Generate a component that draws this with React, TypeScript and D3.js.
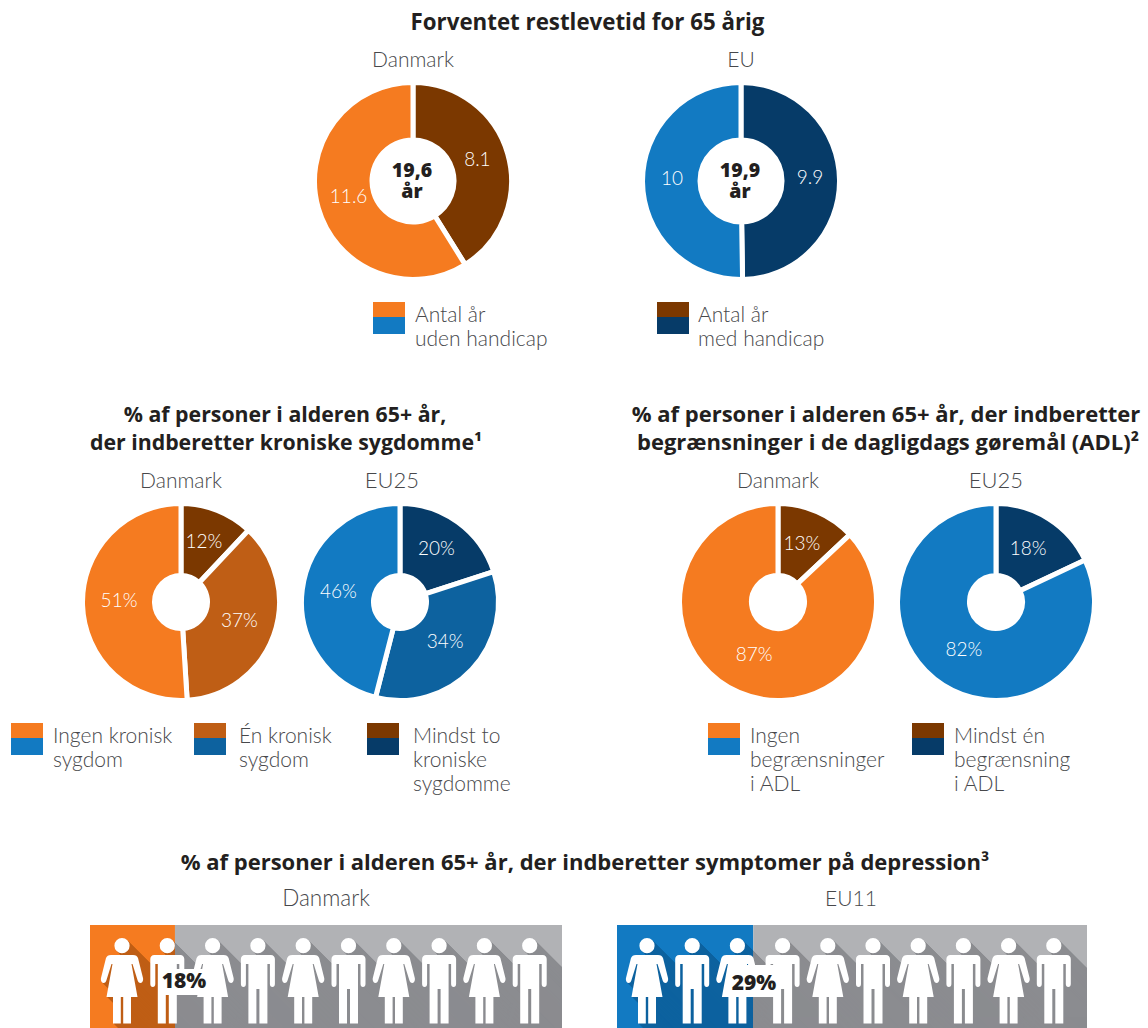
import React from "react";
import * as d3 from "d3";

// Slice values, listed clockwise from twelve o'clock
const lifeDk = [8.1, 11.6];
const lifeEu = [9.9, 10];
const chronicDk = [12, 37, 51];
const chronicEu = [20, 34, 46];
const adlDk = [13, 87];
const adlEu = [18, 82];
const depressionDk = 18;
const depressionEu = 29;
const peopleCount = 10;

const ORANGE = ["#7B3800", "#BF5E15", "#F57B20"];
const BLUE = ["#063B68", "#0D629F", "#127AC2"];
const ORANGE2 = [ORANGE[0], ORANGE[2]];
const BLUE2 = [BLUE[0], BLUE[2]];

const TITLE = "#231F20";
const BODY = "#47484B";
const titleFont = "'Open Sans', sans-serif";
const bodyFont = "Lato, sans-serif";

type PieProps = {
  cx: number; cy: number; inner: number; labelR: number; values: number[]; colors: string[];
  labels: string[]; center?: string[];
};

function Donut({ cx, cy, inner, labelR, values, colors, labels, center }: PieProps) {
  const slices = d3.pie<number>().sort(null)(values);
  const arc = d3.arc<d3.PieArcDatum<number>>().innerRadius(inner).outerRadius(98.5);
  const labelArc = d3.arc<d3.PieArcDatum<number>>().innerRadius(labelR).outerRadius(labelR);
  return (
    <g transform={`translate(${cx},${cy})`}>
      {slices.map((s, i) => (
        <path key={i} d={arc(s) ?? ""} fill={colors[i]} stroke="#fff" strokeWidth={5} strokeLinejoin="miter" />
      ))}
      {slices.map((s, i) => {
        const [x, y] = labelArc.centroid(s);
        return (
          <text key={i} x={x} y={y + 3.5} textAnchor="middle" fontFamily={bodyFont} fontWeight={300} fontSize={19} fill="#fff">
            {labels[i]}
          </text>
        );
      })}
      {center?.map((t, i) => (
        <text key={t} x={-1} y={-4 + i * 21} textAnchor="middle" fontFamily={titleFont} fontWeight={800} fontSize={19.5} fill={TITLE}>{t}</text>
      ))}
    </g>
  );
}

function Legend({ x, y, top, bottom, lines, dx }: { x: number; y: number; top: string; bottom: string; lines: string[]; dx: number }) {
  return (
    <g>
      <rect x={x} y={y} width={32} height={15} fill={top} />
      <rect x={x} y={y + 15} width={32} height={17} fill={bottom} />
      {lines.map((l, i) => (
        <text key={i} x={x + dx} y={y + 20 + i * 24} fontFamily={bodyFont} fontWeight={300} fontSize={21} fill={BODY}>{l}</text>
      ))}
    </g>
  );
}

// Pictogram silhouettes, drawn around a vertical axis at x = 0 and y measured from the panel top
const headPath = "M-7.6,20.7a7.6,7.6 0 1,0 15.2,0a7.6,7.6 0 1,0 -15.2,0Z";
const womanPath =
  headPath +
  "M-11,30H11C14,30 15,31 16,33L21,53C21.6,56 20,58 18.5,58C17,58 16,57 15.5,55L10.5,39L9.5,39L15.5,72H9V98.5H1.2V72H-1.2V98.5H-9V72H-15.5L-9.5,39L-10.5,39L-15.5,55C-16,57 -17,58 -18.5,58C-20,58 -21.6,56 -21,53L-16,33C-15,31 -14,30 -11,30Z";
const manPath =
  headPath +
  "M-13,30H13C15.5,30 17,32 17,34V59C17,61 16,62 14.5,62C13,62 12,61 12,59V39H9.5V98.5H1.5V64H-1.5V98.5H-9.5V39H-12V59C-12,61 -13,62 -14.5,62C-16,62 -17,61 -17,59V34C-17,32 -15.5,30 -13,30Z";

function PeoplePanel({ id, x0, x1, firstX, step, value, fill, shade, label, boxX, boxW, boxY, boxH }: {
  id: string; x0: number; x1: number; firstX: number; step: number; value: number; fill: string; shade: string;
  label: string; boxX: number; boxW: number; boxY: number; boxH: number;
}) {
  const top = 925;
  const height = 103;
  const share = d3.scaleLinear().domain([0, 100]).range([x0, x1]);
  const split = share(value);
  const idx = d3.range(peopleCount);
  const offsets = d3.range(1, 104);
  return (
    <g>
      <defs>
        <clipPath id={`${id}-all`}><rect x={x0} y={top} width={x1 - x0} height={height} /></clipPath>
        <clipPath id={`${id}-hi`}><rect x={x0} y={top} width={split - x0} height={height} /></clipPath>
        <clipPath id={`${id}-lo`}><rect x={split} y={top} width={x1 - split} height={height} /></clipPath>
      </defs>
      <rect x={x0} y={top} width={split - x0} height={height} fill={fill} />
      <rect x={split} y={top} width={x1 - split} height={height} fill="#B1B2B5" />
      {[[`${id}-hi`, shade], [`${id}-lo`, "#8B8C90"]].map(([clip, color]) => (
        <g key={clip} clipPath={`url(#${clip})`} fill={color}>
          {idx.map((i) => offsets.map((o) => (
            <path key={`${i}-${o}`} d={i % 2 === 0 ? womanPath : manPath}
              transform={`translate(${firstX + i * step + o},${top + o})`} />
          )))}
        </g>
      ))}
      <g clipPath={`url(#${id}-all)`} fill="#fff">
        {idx.map((i) => (
          <path key={i} d={i % 2 === 0 ? womanPath : manPath} transform={`translate(${firstX + i * step},${top})`} />
        ))}
      </g>
      <rect x={boxX} y={boxY} width={boxW} height={boxH} fill="#fff" />
      <text x={boxX + boxW / 2} y={boxY + boxH - 7} textAnchor="middle" fontFamily={titleFont} fontWeight={800} fontSize={21} fill={TITLE}>{label}</text>
    </g>
  );
}

const Title = ({ x, y, t, size = 22 }: { x: number; y: number; t: string; size?: number }) => (
  <text x={x} y={y} textAnchor="middle" fontFamily={titleFont} fontWeight={700} fontSize={size} fill={TITLE}>{t}</text>
);
const Sub = ({ x, y, t, size = 21 }: { x: number; y: number; t: string; size?: number }) => (
  <text x={x} y={y} textAnchor="middle" fontFamily={bodyFont} fontWeight={300} fontSize={size} fill={BODY}>{t}</text>
);

export default function App() {
  return (
    <svg width={1148} height={1028} style={{ position: "absolute", left: 0, top: 0, background: "#fff" }}>
      <Title x={587.5} y={30} t="Forventet restlevetid for 65 årig" size={22.3} />
      <Sub x={413} y={67} t="Danmark" />
      <Sub x={741} y={67} t="EU" />
      <Donut cx={413} cy={181} inner={41} labelR={67} values={lifeDk} colors={ORANGE2} labels={["8.1", "11.6"]} center={["19,6", "år"]} />
      <Donut cx={741} cy={181} inner={41} labelR={69} values={lifeEu} colors={BLUE2} labels={["9.9", "10"]} center={["19,9", "år"]} />
      <Legend x={373} y={302} dx={42} top={ORANGE[2]} bottom={BLUE[2]} lines={["Antal år", "uden handicap"]} />
      <Legend x={657} y={302} dx={41} top={ORANGE[0]} bottom={BLUE[0]} lines={["Antal år", "med handicap"]} />

      <Title x={285} y={422} t="% af personer i alderen 65+ år," size={21.3} />
      <Title x={286} y={450} t="der indberetter kroniske sygdomme¹" size={21.3} />
      <Sub x={181} y={488} t="Danmark" />
      <Sub x={392} y={488} t="EU25" size={22} />
      <Donut cx={181} cy={602} inner={26.5} labelR={62} values={chronicDk} colors={ORANGE} labels={chronicDk.map((v) => `${v}%`)} />
      <Donut cx={400} cy={602} inner={26.5} labelR={62} values={chronicEu} colors={BLUE} labels={chronicEu.map((v) => `${v}%`)} />
      <Legend x={11} y={723} dx={42} top={ORANGE[2]} bottom={BLUE[2]} lines={["Ingen kronisk", "sygdom"]} />
      <Legend x={194} y={723} dx={45} top={ORANGE[1]} bottom={BLUE[1]} lines={["Én kronisk", "sygdom"]} />
      <Legend x={367} y={723} dx={46} top={ORANGE[0]} bottom={BLUE[0]} lines={["Mindst to", "kroniske", "sygdomme"]} />

      <Title x={886} y={422} t="% af personer i alderen 65+ år, der indberetter" />
      <Title x={888} y={450} t="begrænsninger i de dagligdags gøremål (ADL)²" />
      <Sub x={778} y={488} t="Danmark" />
      <Sub x={996} y={488} t="EU25" size={22} />
      <Donut cx={778} cy={602} inner={26.5} labelR={60} values={adlDk} colors={ORANGE2} labels={adlDk.map((v) => `${v}%`)} />
      <Donut cx={996} cy={602} inner={26.5} labelR={60} values={adlEu} colors={BLUE2} labels={adlEu.map((v) => `${v}%`)} />
      <Legend x={708} y={723} dx={42} top={ORANGE[2]} bottom={BLUE[2]} lines={["Ingen", "begrænsninger", "i ADL"]} />
      <Legend x={912} y={723} dx={42} top={ORANGE[0]} bottom={BLUE[0]} lines={["Mindst én", "begrænsning", "i ADL"]} />

      <Title x={585} y={870} t="% af personer i alderen 65+ år, der indberetter symptomer på depression³" />
      <Sub x={326} y={906} t="Danmark" size={22.5} />
      <Sub x={851} y={906} t="EU11" />
      <PeoplePanel id="dk" x0={90} x1={562} firstX={122} step={45.3} value={depressionDk} fill={ORANGE[2]} shade={ORANGE[1]}
        label={`${depressionDk}%`} boxX={158} boxW={52} boxY={969} boxH={26} />
      <PeoplePanel id="eu" x0={617} x1={1087} firstX={647} step={45.2} value={depressionEu} fill={BLUE[2]} shade={BLUE[1]}
        label={`${depressionEu}%`} boxX={728} boxW={52} boxY={965} boxH={32} />
    </svg>
  );
}
